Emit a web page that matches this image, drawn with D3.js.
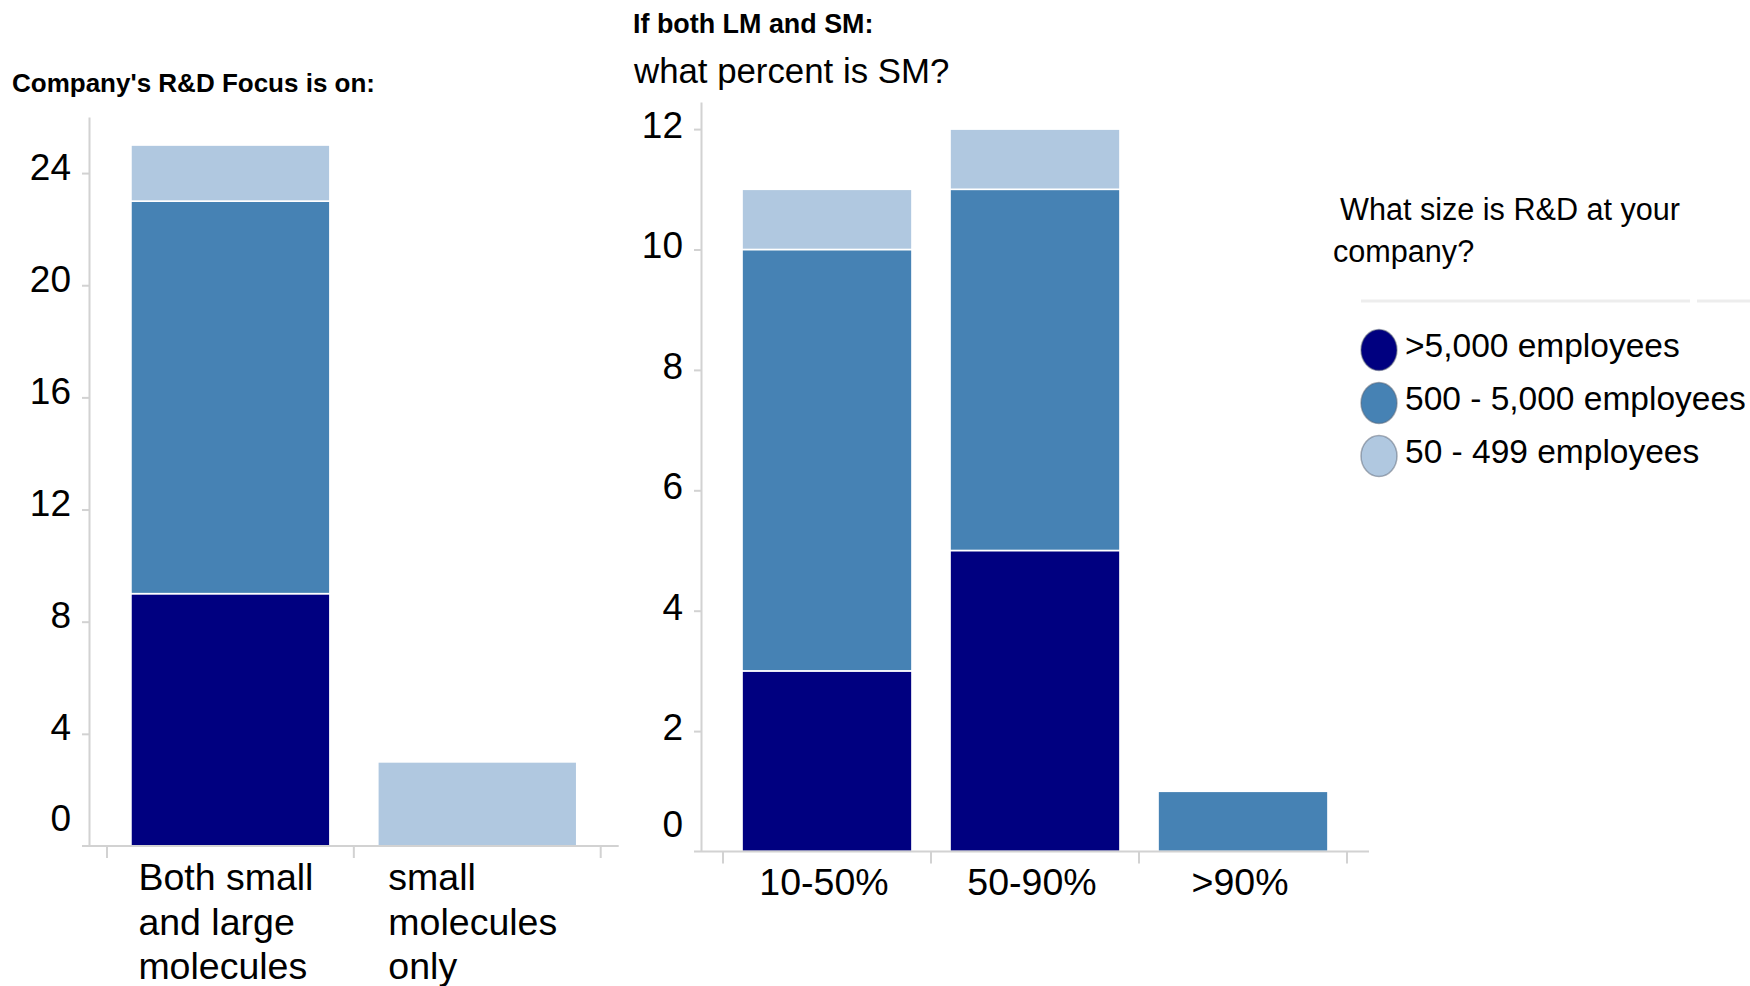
<!DOCTYPE html>
<html>
<head>
<meta charset="utf-8">
<script src="https://cdn.jsdelivr.net/npm/d3@7"></script>
<style>
  html, body { margin: 0; padding: 0; background: #fff; }
  svg { display: block; font-family: "Liberation Sans", Arial, Helvetica, sans-serif; }
</style>
</head>
<body>
<svg id="chart" width="1750" height="986"></svg>
<script>
// ---- data ----
const sizeSeries = [">5,000 employees", "500 - 5,000 employees", "50 - 499 employees"];
const seriesKeys = ["large", "mid", "small"];

const focusCategories = ["Both small and large molecules", "small molecules only"];
const focusLabelLines = [["Both small", "and large", "molecules"], ["small", "molecules", "only"]];
const focusLarge = [9, 0];
const focusMid = [14, 0];
const focusSmall = [2, 3];
const focusTicks = [0, 4, 8, 12, 16, 20, 24];

const shareCategories = ["10-50%", "50-90%", ">90%"];
const shareLarge = [3, 5, 0];
const shareMid = [7, 6, 1];
const shareSmall = [1, 1, 0];
const shareTicks = [0, 2, 4, 6, 8, 10, 12];

// ---- styling ----
const colors = d3.scaleOrdinal().domain(seriesKeys).range(["#000080", "#4682B4", "#B0C8E0"]);
const axisColor = "#d2d2d2";
const tickFont = 37;
const catFont = 37.5;

const svg = d3.select("#chart");

function rowsFrom(cats, large, mid, small) {
  return cats.map((c, i) => ({ cat: c, large: large[i], mid: mid[i], small: small[i] }));
}

function drawPanel(opt) {
  const g = svg.append("g");
  const x = d3.scaleBand().domain(opt.categories).range(opt.xRange)
    .paddingInner(opt.padInner).paddingOuter(opt.padInner / 2);
  const y = d3.scaleLinear().domain([0, opt.yMax]).range(opt.yRange);

  const stacked = d3.stack().keys(seriesKeys)(opt.rows);

  // stacked bars
  g.append("g").selectAll("g").data(stacked).join("g")
    .attr("fill", d => colors(d.key))
    .selectAll("rect")
    .data(d => d.filter(s => s[1] - s[0] > 0))
    .join("rect")
    .attr("x", d => x(d.data.cat))
    .attr("width", x.bandwidth())
    .attr("y", d => y(d[1]))
    .attr("height", d => y(d[0]) - y(d[1]))
    .attr("stroke", "#fff")
    .attr("stroke-width", 1.6);

  // value axis
  const yAxis = g.append("g")
    .attr("transform", `translate(${opt.axisX},0)`)
    .call(d3.axisLeft(y).tickValues(opt.ticks).tickSize(7).tickSizeOuter(0).tickPadding(11));
  yAxis.select(".domain").attr("stroke", axisColor).attr("stroke-width", 2);
  yAxis.selectAll(".tick line").attr("stroke", axisColor).attr("stroke-width", 2);
  yAxis.selectAll(".tick text")
    .attr("font-size", tickFont)
    .attr("font-family", "Liberation Sans, Arial, sans-serif")
    .attr("fill", "#000")
    .attr("dy", d => d === 0 ? opt.zeroDy : opt.tickDy);
  yAxis.selectAll(".tick").filter(d => d === 0).select("line").remove();

  // category baseline with boundary ticks
  const base = y(0);
  const r = x.range();
  g.append("line")
    .attr("x1", r[0] - opt.baseExtend[0]).attr("x2", r[1] + opt.baseExtend[1])
    .attr("y1", base).attr("y2", base)
    .attr("stroke", axisColor).attr("stroke-width", 2);
  const bounds = d3.range(opt.categories.length + 1).map(i => r[0] + i * x.step());
  g.append("g").selectAll("line").data(bounds).join("line")
    .attr("x1", d => d).attr("x2", d => d)
    .attr("y1", base).attr("y2", base + 12)
    .attr("stroke", axisColor).attr("stroke-width", 2);

  return { g, x, y };
}

// ---- left panel: R&D focus ----
const left = drawPanel({
  categories: focusCategories,
  rows: rowsFrom(focusCategories, focusLarge, focusMid, focusSmall),
  xRange: [107, 600.7],
  padInner: 0.194,
  yMax: 26,
  yRange: [846, 117],
  ticks: focusTicks,
  axisX: 89,
  baseExtend: [25, 18],
  tickDy: "6px",
  zeroDy: "-16px"
});

left.g.append("g").selectAll("text").data(focusCategories).join("text")
  .attr("font-size", catFont)
  .attr("fill", "#000")
  .each(function (c, i) {
    const t = d3.select(this);
    focusLabelLines[i].forEach((line, k) => {
      t.append("tspan").attr("y", 890 + k * 44.5).text(line);
    });
    let w = 0;
    t.selectAll("tspan").each(function () { w = Math.max(w, this.getComputedTextLength()); });
    const cx = left.x(c) + left.x.bandwidth() / 2;
    t.selectAll("tspan").attr("x", cx - w / 2 - 4.5);
  });

svg.append("text")
  .attr("x", 12).attr("y", 92)
  .attr("font-size", 26).attr("font-weight", "bold").attr("fill", "#000")
  .text("Company's R&D Focus is on:");

// ---- right panel: share of small molecules ----
const right = drawPanel({
  categories: shareCategories,
  rows: rowsFrom(shareCategories, shareLarge, shareMid, shareSmall),
  xRange: [723, 1347],
  padInner: 0.183,
  yMax: 12.45,
  yRange: [851.5, 102],
  ticks: shareTicks,
  axisX: 701,
  baseExtend: [29, 22],
  tickDy: "8.5px",
  zeroDy: "-15.5px"
});

right.g.append("g").selectAll("text").data(shareCategories).join("text")
  .attr("x", d => right.x(d) + right.x.bandwidth() / 2 - 3)
  .attr("y", 895)
  .attr("text-anchor", "middle")
  .attr("font-size", catFont)
  .attr("fill", "#000")
  .text(d => d);

svg.append("text")
  .attr("x", 633).attr("y", 33)
  .attr("font-size", 26.9).attr("font-weight", "bold").attr("fill", "#000")
  .text("If both LM and SM:");
svg.append("text")
  .attr("x", 634).attr("y", 82.5)
  .attr("font-size", 34.8).attr("fill", "#000")
  .text("what percent is SM?");

// ---- legend ----
const legend = svg.append("g");
legend.append("text").attr("x", 1340).attr("y", 220)
  .attr("font-size", 30.6).attr("fill", "#000").text("What size is R&D at your");
legend.append("text").attr("x", 1333).attr("y", 261.5)
  .attr("font-size", 30.6).attr("fill", "#000").text("company?");
legend.append("line").attr("x1", 1361).attr("x2", 1690).attr("y1", 301).attr("y2", 301)
  .attr("stroke", "#ededed").attr("stroke-width", 3);
legend.append("line").attr("x1", 1697).attr("x2", 1750).attr("y1", 301).attr("y2", 301)
  .attr("stroke", "#ededed").attr("stroke-width", 3);

const items = legend.selectAll("g.item").data(seriesKeys).join("g").attr("class", "item")
  .attr("transform", (d, i) => `translate(0,${350 + i * 53})`);
items.append("ellipse")
  .attr("cx", 1379).attr("cy", 0).attr("rx", 18).attr("ry", 20.5)
  .attr("fill", d => colors(d))
  .attr("stroke", "rgba(90,100,115,0.5)").attr("stroke-width", 1.5);
items.append("text")
  .attr("x", 1405).attr("y", 7)
  .attr("font-size", 33.5).attr("fill", "#000")
  .text((d, i) => sizeSeries[i]);
</script>
</body>
</html>
